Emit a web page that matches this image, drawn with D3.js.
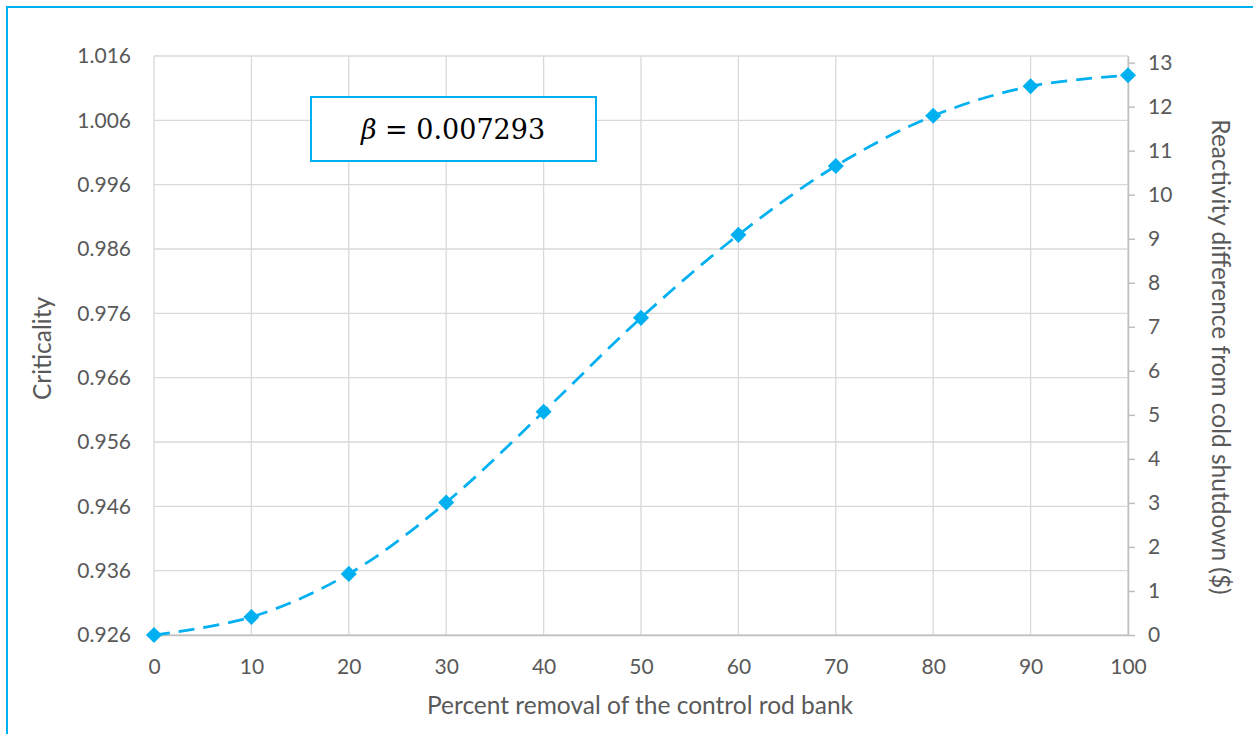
<!DOCTYPE html>
<html>
<head>
<meta charset="utf-8">
<script src="https://cdn.jsdelivr.net/npm/d3@7"></script>
<style>
  html, body { margin: 0; padding: 0; background: #fff; }
  svg { display: block; }
  text { font-family: Lato, "Open Sans", sans-serif; fill: #595959; }
</style>
</head>
<body>
<svg id="chart" width="1253" height="734"></svg>
<script>
// Control rod removal (%) and resulting criticality (k_eff)
const removal = [0, 10, 20, 30, 40, 50, 60, 70, 80, 90, 100];
const criticality = [0.926, 0.9288, 0.9355, 0.9466, 0.9607, 0.9753, 0.9882, 0.9989, 1.0067, 1.0113, 1.0130];

const xTicks = [0, 10, 20, 30, 40, 50, 60, 70, 80, 90, 100];
const leftTicks = [0.926, 0.936, 0.946, 0.956, 0.966, 0.976, 0.986, 0.996, 1.006, 1.016];
const rightTicks = [0, 1, 2, 3, 4, 5, 6, 7, 8, 9, 10, 11, 12, 13];
const rightMax = 13.15;
const betaSymbol = "β";
const betaValue = " = 0.007293";

const blue = "#00B0F0";
const svg = d3.select("#chart");

// outer frame
svg.append("rect")
  .attr("x", 7).attr("y", 7).attr("width", 1300).attr("height", 800)
  .attr("fill", "none").attr("stroke", blue).attr("stroke-width", 2);

const plot = { left: 154, right: 1128, top: 56, bottom: 635 };

const x = d3.scaleLinear().domain([0, 100]).range([plot.left, plot.right]);
const y = d3.scaleLinear().domain([0.926, 1.016]).range([plot.bottom, plot.top]);
const y2 = d3.scaleLinear().domain([0, rightMax]).range([plot.bottom, plot.top]);

// horizontal gridlines
svg.append("g").selectAll("line").data(leftTicks).join("line")
  .attr("x1", plot.left).attr("x2", plot.right)
  .attr("y1", d => y(d)).attr("y2", d => y(d))
  .attr("stroke", "#d9d9d9").attr("stroke-width", 1.3);

// vertical gridlines
svg.append("g").selectAll("line").data(xTicks).join("line")
  .attr("x1", d => x(d)).attr("x2", d => x(d))
  .attr("y1", plot.top).attr("y2", plot.bottom)
  .attr("stroke", "#d9d9d9").attr("stroke-width", 1.3);

const tickFont = 21;

// bottom axis
const xAxis = svg.append("g")
  .attr("transform", `translate(0,${plot.bottom})`)
  .call(d3.axisBottom(x).tickValues(xTicks).tickSize(0).tickPadding(24).tickFormat(d3.format("d")));
xAxis.select(".domain").attr("stroke", "#bfbfbf").attr("stroke-width", 1.5);
xAxis.selectAll("text").attr("font-size", tickFont).attr("fill", "#595959")
  .style("font-family", "Lato, sans-serif");

// left axis
const yAxis = svg.append("g")
  .attr("transform", `translate(${plot.left},0)`)
  .call(d3.axisLeft(y).tickValues(leftTicks).tickSize(0).tickPadding(23).tickFormat(d3.format(".3f")));
yAxis.select(".domain").remove();
yAxis.selectAll("text").attr("font-size", tickFont).attr("fill", "#595959")
  .style("font-family", "Lato, sans-serif");

// right axis
const y2Axis = svg.append("g")
  .attr("transform", `translate(${plot.right},0)`)
  .call(d3.axisRight(y2).tickValues(rightTicks).tickSizeInner(7).tickSizeOuter(0).tickPadding(13).tickFormat(d3.format("d")));
y2Axis.select(".domain").attr("stroke", "#bfbfbf").attr("stroke-width", 1.5);
y2Axis.selectAll(".tick line").attr("stroke", "#bfbfbf").attr("stroke-width", 1.5);
y2Axis.selectAll("text").attr("font-size", tickFont).attr("fill", "#595959")
  .style("font-family", "Lato, sans-serif");

// axis titles
const titleFont = 24.5;
svg.append("text")
  .attr("x", 640).attr("y", 714)
  .attr("text-anchor", "middle").attr("font-size", titleFont)
  .text("Percent removal of the control rod bank");

svg.append("text")
  .attr("transform", `translate(51,${(plot.top + plot.bottom) / 2 + 3}) rotate(-90)`)
  .attr("text-anchor", "middle").attr("font-size", titleFont)
  .text("Criticality");

svg.append("text")
  .attr("transform", `translate(1212,${357}) rotate(90)`)
  .attr("text-anchor", "middle").attr("font-size", titleFont)
  .text("Reactivity difference from cold shutdown ($)");

// series
const pts = removal.map((r, i) => [r, criticality[i]]);
const line = d3.line().x(d => x(d[0])).y(d => y(d[1])).curve(d3.curveCatmullRom.alpha(0.5));

svg.append("path")
  .attr("d", line(pts))
  .attr("fill", "none").attr("stroke", blue).attr("stroke-width", 2.75)
  .attr("stroke-dasharray", "16 9");

svg.append("g").selectAll("path").data(pts).join("path")
  .attr("d", d3.symbol(d3.symbolDiamond2, 165))
  .attr("transform", d => `translate(${x(d[0])},${y(d[1])})`)
  .attr("fill", blue);

// beta annotation
svg.append("rect")
  .attr("x", 311).attr("y", 97).attr("width", 285).attr("height", 64)
  .attr("fill", "#fff").attr("stroke", blue).attr("stroke-width", 2);
const beta = svg.append("text")
  .attr("x", 453).attr("y", 139)
  .attr("text-anchor", "middle").attr("font-size", 27)
  .style("font-family", "'DejaVu Serif', 'Liberation Serif', serif")
  .style("fill", "#000");
beta.append("tspan").style("font-style", "italic").style("fill", "#000").text(betaSymbol);
beta.append("tspan").style("fill", "#000").text(betaValue);
</script>
</body>
</html>
